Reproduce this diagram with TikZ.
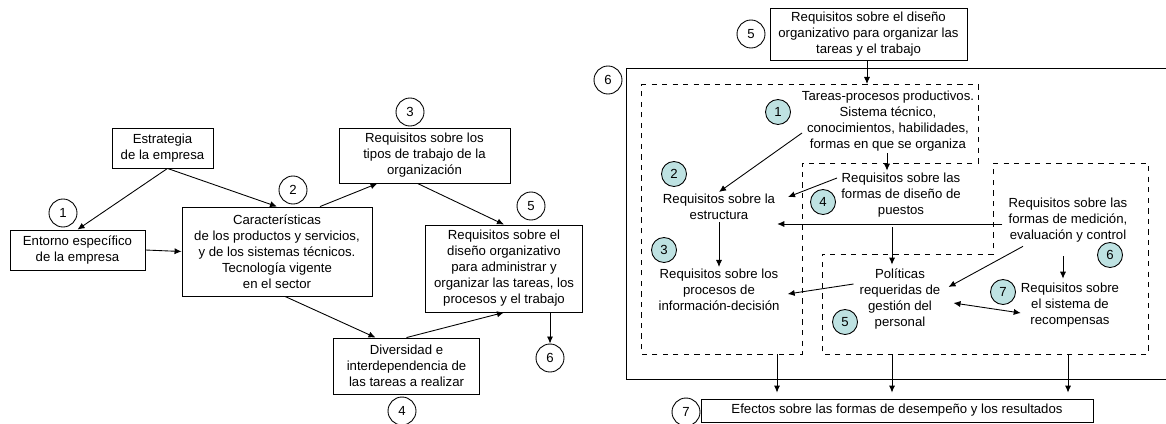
\documentclass[tikz,border=0pt]{standalone}
\usepackage{fontspec}
\setmainfont{Liberation Sans}
\usetikzlibrary{arrows.meta,calc}
\definecolor{tealc}{RGB}{190,226,226}
\begin{document}
\begin{tikzpicture}[x=0.02cm,y=-0.02cm, line width=0.5pt, >={Latex[length=4pt,width=3.5pt]},
    font=\fontsize{7.5}{9.1}\selectfont,
    box/.style={draw, align=center, inner sep=1pt},
    txt/.style={align=center, inner sep=1pt},
    ncirc/.style={draw, circle, minimum size=0.56cm, inner sep=0pt},
    kcirc/.style={draw, circle, fill=tealc, minimum size=0.5cm, inner sep=0pt}]
    \useasboundingbox (0,0) rectangle (1166,423);

    % left diagram
    \node[box, minimum width=2.02cm, minimum height=0.8cm] (estr) at (162.5,148) {Estrategia\\de la empresa};
    \node[box, minimum width=2.7cm, minimum height=0.8cm] (ent) at (77.5,250) {Entorno específico\\de la empresa};
    \node[box, minimum width=3.8cm, minimum height=1.78cm] (car) at (277,251.5) {Características\\de los productos y servicios,\\y de los sistemas técnicos.\\Tecnología vigente\\en el sector};
    \node[box, minimum width=3.42cm, minimum height=1.1cm] (tip) at (424.5,155.5) {Requisitos sobre los\\tipos de trabajo de la\\organización};
    \node[box, minimum width=3.14cm, minimum height=1.74cm] (dis) at (504,268.5) {Requisitos sobre el\\diseño organizativo\\para administrar y\\organizar las tareas, los\\procesos y el trabajo};
    \node[box, minimum width=2.92cm, minimum height=1.12cm] (div) at (406.5,366) {Diversidad e\\interdependencia de\\las tareas a realizar};

    \node[ncirc] (c1) at (63,213) {1};
    \node[ncirc] (c2) at (293,190) {2};
    \node[ncirc] (c3) at (410,112) {3};
    \node[ncirc] (c4) at (402,411) {4};
    \node[ncirc] (c5) at (531,206) {5};
    \node[ncirc] (c6) at (550,358) {6};

    \draw[->] ($(estr.south)+(5,0)$) -- (ent.north);
    \draw[->] ($(estr.south)+(5,0)$) -- (car.north);
    \draw[->] (ent.east) -- (car.west);
    \draw[->] ($(car.north)+(43,0)$) -- ($(tip.south)+(-47,0)$);
    \draw[->] ($(tip.south)+(-7,0)$) -- (dis.north);
    \draw[->] ($(car.south)+(8,0)$) -- ($(div.north)+(-31,0)$);
    \draw[->] (div.north) -- (dis.south);
    \draw[->] (c6 |- dis.south) -- (c6);

    % right diagram
    \node[box, minimum width=3.94cm, minimum height=1.04cm] (req) at (868.5,34) {Requisitos sobre el diseño\\organizativo para organizar las\\tareas y el trabajo};
    \node[ncirc] (r5) at (751,34) {5};
    \draw (626,68) rectangle (1180,379);
    \node[ncirc] (r6) at (608,80) {6};
    \draw[dashed] (641,84) -- (978,84) -- (978,163) -- (802,163) -- (802,354) -- (641,354) -- cycle;
    \draw[dashed] (993,163) -- (1148,163) -- (1148,354) -- (822,354) -- (822,254) -- (993,254) -- cycle;
    \coordinate (dtop) at (867,84);

    \node[txt] (t1) at (888,121) {Tareas-procesos productivos.\\Sistema técnico,\\conocimientos, habilidades,\\formas en que se organiza};
    \node[txt] (t2) at (719,207) {Requisitos sobre la\\estructura};
    \node[txt] (t3) at (719,290) {Requisitos sobre los\\procesos de\\información-decisión};
    \node[txt] (t4) at (901,195) {Requisitos sobre las\\formas de diseño de\\puestos};
    \node[txt] (t5) at (900,299) {Políticas\\requeridas de\\gestión del\\personal};
    \node[txt] (t6) at (1068,220) {Requisitos sobre las\\formas de medición,\\evaluación y control};
    \node[txt] (t7) at (1070,305) {Requisitos sobre\\el sistema de\\recompensas};

    \node[kcirc] (k1) at (778,112) {1};
    \node[kcirc] (k2) at (674,174) {2};
    \node[kcirc] (k3) at (664,250) {3};
    \node[kcirc] (k4) at (823,202) {4};
    \node[kcirc] (k5) at (845,322) {5};
    \node[kcirc] (k6) at (1110,255) {6};
    \node[kcirc] (k7) at (1003,292) {7};

    \node[box, minimum width=7.84cm, minimum height=0.46cm] (eff) at (897,410.5) {Efectos sobre las formas de desempeño y los resultados};
    \node[ncirc] (r7) at (686,412) {7};

    \draw[->] (req.south -| dtop) -- (dtop);
    \draw[->] ($(t1)+(-86,12)$) -- (t2.north);
    \draw[->] (t1.south -| 887,0) -- (t4.north -| 887,0);
    \draw[->] ($(t4)+(-64,-17)$) -- ($(t2)+(69,-10)$);
    \coordinate (m6) at ($(t6.west)+(-4,4)$);
    \draw[->] (m6) -- (m6 -| t2.east);
    \draw[->] (t2.south) -- (t3.north);
    \draw[->] ($(t4.south)+(-9,8)$) -- ($(t5.north)+(-8,-2)$);
    \draw[->] ($(t5.west)+(-4,-15)$) -- ($(t3.east)+(6,4)$);
    \draw[->] ($(t6.south)+(-45,2)$) -- ($(t5.east)+(6,-12)$);
    \draw[->] ($(t6.south)+(-5,12)$) -- ($(t7.north)+(-7,-2)$);
    \draw[<->] ($(t5.east)+(11,4)$) -- ($(t7.west)+(2,8)$);
    \foreach \x in {777,892,1068} {
        \coordinate (b\x) at (\x,354);
        \draw[->, shorten >=3.4pt] (b\x) -- (b\x |- eff.north);
    }
\end{tikzpicture}
\end{document}
